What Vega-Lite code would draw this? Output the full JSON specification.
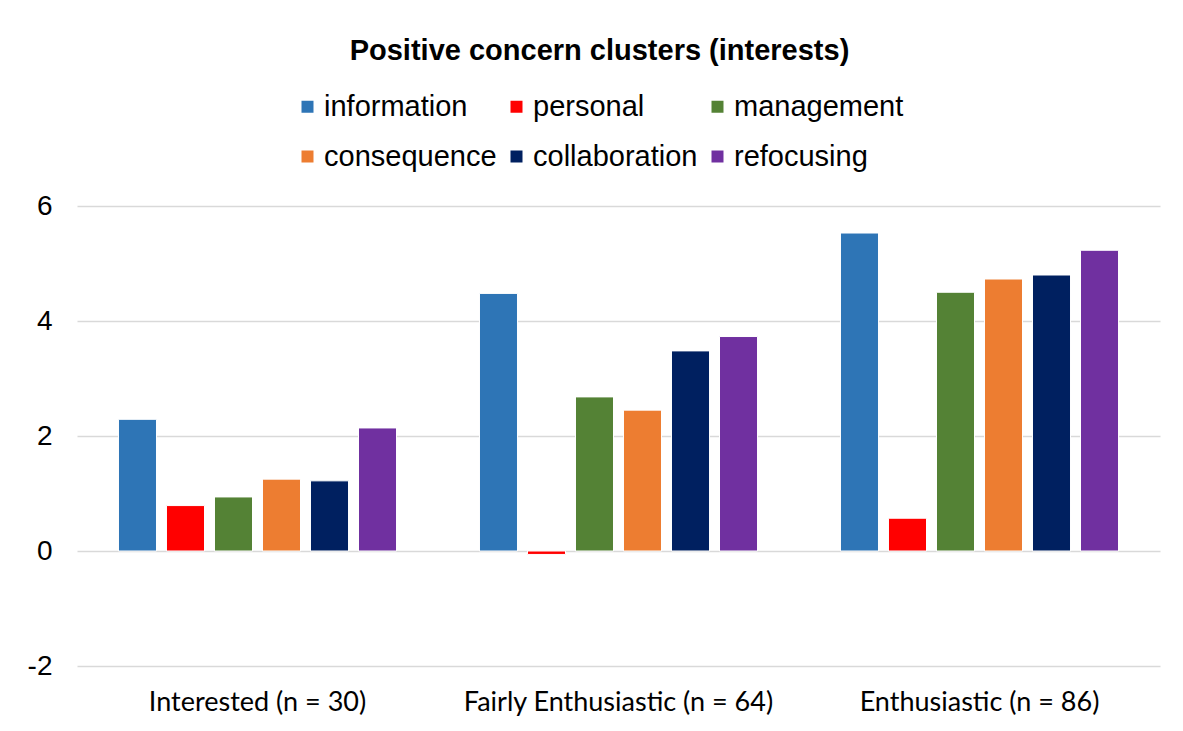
{
  "$schema": "https://vega.github.io/schema/vega-lite/v6.json",
  "autosize": "none",
  "width": 1083,
  "height": 460,
  "padding": {"left": 77, "top": 206, "right": 23, "bottom": 65},
  "background": "white",
  "title": {
    "text": "Positive concern clusters (interests)",
    "font": "Liberation Sans",
    "fontSize": 29,
    "fontWeight": "bold",
    "color": "#000000",
    "anchor": "middle",
    "dx": -19,
    "offset": 26
  },
  "data": {
    "values": [
      {"group": "Interested (n = 30)", "cluster": "information", "value": 2.29},
      {"group": "Interested (n = 30)", "cluster": "personal", "value": 0.79},
      {"group": "Interested (n = 30)", "cluster": "management", "value": 0.94},
      {"group": "Interested (n = 30)", "cluster": "consequence", "value": 1.25},
      {"group": "Interested (n = 30)", "cluster": "collaboration", "value": 1.22},
      {"group": "Interested (n = 30)", "cluster": "refocusing", "value": 2.14},
      {"group": "Fairly Enthusiastic (n = 64)", "cluster": "information", "value": 4.48},
      {"group": "Fairly Enthusiastic (n = 64)", "cluster": "personal", "value": -0.06},
      {"group": "Fairly Enthusiastic (n = 64)", "cluster": "management", "value": 2.68},
      {"group": "Fairly Enthusiastic (n = 64)", "cluster": "consequence", "value": 2.45},
      {"group": "Fairly Enthusiastic (n = 64)", "cluster": "collaboration", "value": 3.48},
      {"group": "Fairly Enthusiastic (n = 64)", "cluster": "refocusing", "value": 3.73},
      {"group": "Enthusiastic (n = 86)", "cluster": "information", "value": 5.53},
      {"group": "Enthusiastic (n = 86)", "cluster": "personal", "value": 0.57},
      {"group": "Enthusiastic (n = 86)", "cluster": "management", "value": 4.5},
      {"group": "Enthusiastic (n = 86)", "cluster": "consequence", "value": 4.73},
      {"group": "Enthusiastic (n = 86)", "cluster": "collaboration", "value": 4.8},
      {"group": "Enthusiastic (n = 86)", "cluster": "refocusing", "value": 5.23}
    ]
  },
  "mark": {"type": "bar", "stroke": "white", "strokeWidth": 1},
  "encoding": {
    "x": {
      "field": "group",
      "type": "nominal",
      "sort": null,
      "scale": {"paddingInner": 0, "paddingOuter": 0},
      "axis": {
        "title": null,
        "labelAngle": 0,
        "labelFont": "Lato",
        "labelFontSize": 27,
        "labelColor": "#000000",
        "labelPadding": 23,
        "ticks": false,
        "domain": false,
        "labelLimit": 400
      }
    },
    "xOffset": {
      "field": "cluster",
      "type": "nominal",
      "sort": ["information", "personal", "management", "consequence", "collaboration", "refocusing"],
      "scale": {"paddingInner": 0.208, "paddingOuter": 0.864}
    },
    "y": {
      "field": "value",
      "type": "quantitative",
      "scale": {"domain": [-2, 6], "nice": false, "zero": false},
      "axis": {
        "title": null,
        "values": [-2, 0, 2, 4, 6],
        "labelExpr": "replace(datum.label, '\u2212', '-')",
        "labelFont": "Liberation Sans",
        "labelFontSize": 28,
        "labelColor": "#000000",
        "labelPadding": 25,
        "ticks": false,
        "domain": false,
        "grid": true,
        "gridColor": "#D9D9D9",
        "gridWidth": 1.5
      }
    },
    "color": {
      "field": "cluster",
      "type": "nominal",
      "sort": ["information", "personal", "management", "consequence", "collaboration", "refocusing"],
      "scale": {
        "domain": ["information", "personal", "management", "consequence", "collaboration", "refocusing"],
        "range": ["#2E75B6", "#FF0000", "#548235", "#ED7D31", "#002060", "#7030A0"]
      },
      "legend": {
        "title": null,
        "orient": "none",
        "direction": "horizontal",
        "legendX": 216,
        "legendY": -114,
        "columns": 3,
        "columnPadding": 5,
        "rowPadding": 20,
        "symbolType": "square",
        "symbolSize": 144,
        "symbolStrokeWidth": 0,
        "symbolOpacity": 1,
        "labelFont": "Liberation Sans",
        "labelFontSize": 29,
        "labelColor": "#000000",
        "labelOffset": 2,
        "labelLimit": 300
      }
    }
  },
  "config": {"view": {"stroke": null}}
}
